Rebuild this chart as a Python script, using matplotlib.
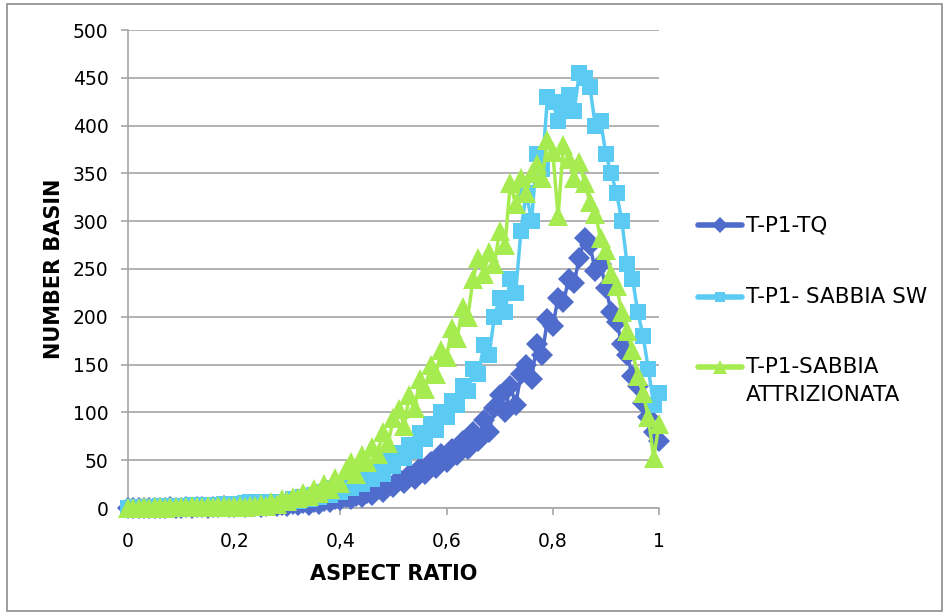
import matplotlib
matplotlib.use("Agg")
import matplotlib.pyplot as plt
from matplotlib.lines import Line2D
from matplotlib.patches import Rectangle

# ---- data ----
aspect_ratio = [round(i * 0.01, 2) for i in range(101)]

tq = [0, 0, 0, 0, 0, 0, 0, 0, 1, 0,
      0, 1, 0, 1, 1, 0, 1, 1, 2, 1,
      1, 2, 1, 2, 2, 1, 2, 3, 2, 3,
      2, 4, 3, 5, 3, 6, 4, 7, 6, 9,
      8, 11, 9, 13, 11, 16, 14, 20, 17, 25,
      22, 30, 26, 35, 30, 42, 36, 48, 42, 56,
      48, 62, 55, 70, 62, 80, 70, 92, 80, 105,
      118, 100, 128, 108, 140, 150, 135, 172, 160, 198,
      190, 220, 215, 240, 235, 262, 282, 275, 248, 255,
      230, 205, 195, 172, 160, 138, 128, 110, 95, 80,
      70]

sabbia_sw = [0, 1, 1, 1, 1, 1, 2, 1, 2, 2,
             2, 2, 3, 2, 3, 3, 3, 3, 4, 3,
             4, 4, 5, 6, 5, 5, 6, 5, 6, 6,
             6, 9, 7, 11, 9, 14, 11, 17, 14, 21,
             17, 25, 21, 30, 25, 36, 30, 43, 36, 52,
             44, 58, 52, 66, 60, 78, 72, 88, 82, 100,
             95, 112, 108, 128, 122, 145, 140, 170, 160, 200,
             220, 205, 240, 225, 290, 330, 300, 370, 355, 430,
             425, 405, 420, 432, 415, 455, 450, 440, 400, 405,
             370, 350, 330, 300, 255, 240, 205, 180, 145, 108,
             120]

sabbia_attr = [0, 0, 0, 1, 0, 1, 1, 0, 1, 1,
               1, 1, 2, 1, 1, 2, 1, 2, 2, 1,
               2, 2, 1, 2, 2, 4, 2, 6, 4, 9,
               7, 12, 10, 16, 13, 20, 16, 25, 20, 31,
               26, 40, 48, 36, 55, 48, 64, 56, 80, 68,
               94, 104, 86, 118, 105, 135, 125, 150, 140, 165,
               158, 188, 178, 210, 200, 240, 262, 245, 268, 255,
               290, 275, 340, 318, 345, 330, 350, 360, 345, 385,
               372, 305, 380, 365, 345, 362, 340, 320, 308, 282,
               270, 245, 232, 205, 185, 165, 138, 120, 95, 52,
               88]

series_names = ["T-P1-TQ", "T-P1- SABBIA SW", "T-P1-SABBIA\nATTRIZIONATA"]
colors = ["#4F6BCB", "#5BCBF3", "#A6EB50"]
markers = ["D", "s", "^"]
msizes = [11, 11, 14]

x_ticks = [0, 0.2, 0.4, 0.6, 0.8, 1.0]
x_ticklabels = ["0", "0,2", "0,4", "0,6", "0,8", "1"]
y_ticks = list(range(0, 501, 50))

W, H = 943, 612
fig = plt.figure(figsize=(W / 100, H / 100), dpi=100)
fig.patch.set_facecolor("white")
ax = fig.add_axes([128 / W, 1 - 508 / H, (659 - 128) / W, (508 - 30) / H])

grid_c = "#A6A6A6"
for ys, c, m, ms in zip([tq, sabbia_sw, sabbia_attr], colors, markers, msizes):
    ax.plot(aspect_ratio, ys, color=c, marker=m, markersize=ms, lw=2.5,
            markeredgewidth=0, clip_on=False, zorder=3)

ax.set_xlim(0, 1)
ax.set_ylim(0, 500)
ax.set_xticks(x_ticks)
ax.set_xticklabels(x_ticklabels)
ax.set_yticks(y_ticks)
ax.yaxis.grid(True, color=grid_c, lw=1.2)
ax.set_axisbelow(True)
for s in ["top", "right"]:
    ax.spines[s].set_visible(False)
for s in ["left", "bottom"]:
    ax.spines[s].set_color(grid_c)
    ax.spines[s].set_linewidth(1.2)
ax.tick_params(axis="both", colors=grid_c, length=5, width=1.2, labelcolor="black",
               labelsize=13.5)
ax.tick_params(axis="x", pad=12)
ax.tick_params(axis="y", pad=9)
ax.set_xlabel("ASPECT RATIO", fontsize=15, fontweight="bold", labelpad=10)
ax.set_ylabel("NUMBER BASIN", fontsize=15, fontweight="bold", labelpad=6)

# legend (placed to match the reference)
leg_y = [225, 297, 367]
for name, c, m, ms, yy in zip(series_names, colors, markers, msizes, leg_y):
    fy = 1 - yy / H
    ln = Line2D([698 / W, 720 / W, 742 / W], [fy, fy, fy], transform=fig.transFigure,
                color=c, lw=4, marker=m, markersize=ms * 0.7, markevery=[1],
                markeredgewidth=0, solid_capstyle="round")
    fig.add_artist(ln)
    for k, t in enumerate(name.split("\n")):
        fig.text(746 / W, 1 - (yy + 28 * k) / H, t, fontsize=15.5, va="center", ha="left")

fig.add_artist(Rectangle((7 / W, 1 / H), (W - 8) / W, (H - 5) / H, transform=fig.transFigure,
                         fill=False, edgecolor="#8C8C8C", lw=1.2))

fig.savefig("out.png", dpi=100)
